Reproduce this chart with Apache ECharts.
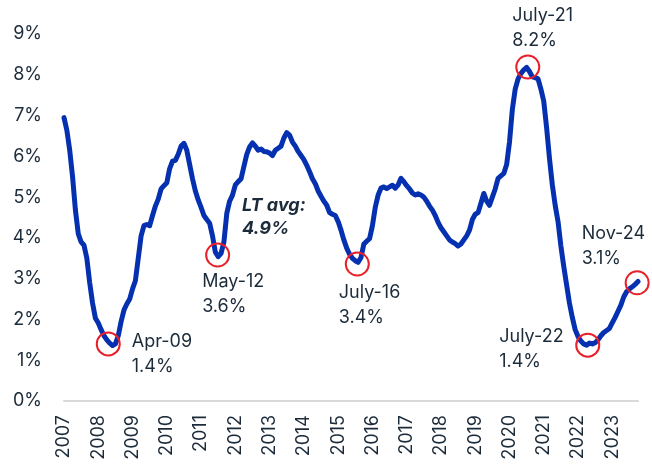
<!DOCTYPE html>
<html>
<head>
<meta charset="utf-8">
<script src="https://cdn.jsdelivr.net/npm/echarts@6/dist/echarts.min.js"></script>
<style>
  html, body { margin: 0; padding: 0; background: #fff; }
  #chart { width: 652px; height: 464px; }
</style>
</head>
<body>
<div id="chart"></div>
<script>
// tick labels on the x axis, one per 12 monthly points
var years = ['2007','2008','2009','2010','2011','2012','2013','2014','2015','2016',
             '2017','2018','2019','2020','2021','2022','2023'];

// monthly values (%)
var rates = [
  6.95, 6.64, 6.15, 5.50, 4.68, 4.10, 3.90, 3.82, 3.50, 2.90, 2.40, 2.03,
  1.91, 1.75, 1.60, 1.50, 1.42, 1.36, 1.40, 1.60, 1.95, 2.23, 2.38, 2.50,
  2.75, 2.95, 3.50, 4.05, 4.30, 4.33, 4.30, 4.55, 4.78, 4.95, 5.20, 5.28,
  5.35, 5.70, 5.88, 5.90, 6.05, 6.25, 6.32, 6.15, 5.80, 5.45, 5.15, 4.93,
  4.75, 4.55, 4.45, 4.36, 4.05, 3.65, 3.54, 3.62, 3.90, 4.60, 4.90, 5.05,
  5.30, 5.38, 5.45, 5.75, 6.05, 6.23, 6.33, 6.25, 6.15, 6.18, 6.12, 6.11,
  6.08, 6.02, 6.15, 6.20, 6.25, 6.45, 6.58, 6.52, 6.35, 6.25, 6.12, 6.02,
  5.92, 5.78, 5.62, 5.45, 5.33, 5.15, 5.02, 4.90, 4.80, 4.62, 4.58, 4.55,
  4.40, 4.19, 3.95, 3.75, 3.60, 3.50, 3.44, 3.40, 3.52, 3.85, 3.92, 3.98,
  4.30, 4.75, 5.05, 5.22, 5.25, 5.21, 5.25, 5.29, 5.22, 5.30, 5.46, 5.38,
  5.28, 5.20, 5.10, 5.05, 5.08, 5.05, 5.00, 4.90, 4.78, 4.68, 4.55, 4.38,
  4.25, 4.15, 4.05, 3.95, 3.90, 3.86, 3.80, 3.85, 3.95, 4.05, 4.19, 4.45,
  4.58, 4.62, 4.85, 5.09, 4.90, 4.80, 5.00, 5.20, 5.46, 5.52, 5.58, 5.80,
  6.35, 7.15, 7.65, 7.90, 8.03, 8.12, 8.18, 8.08, 7.95, 7.93, 7.90, 7.65,
  7.35, 6.70, 5.95, 5.30, 4.80, 4.40, 3.80, 3.30, 2.85, 2.40, 2.05, 1.75,
  1.58, 1.47, 1.40, 1.37, 1.42, 1.40, 1.43, 1.50, 1.60, 1.68, 1.73, 1.78,
  1.92, 2.05, 2.20, 2.35, 2.55, 2.68, 2.75, 2.80, 2.86, 2.93
];

// circled points: position along the months, value, and the text beside them
var markIdx   = [15.5, 53.8, 102.7, 162.4, 183.4, 200.7];
var markVal   = [1.40, 3.58, 3.36, 8.19, 1.37, 2.90];
var markName  = ['Apr-09', 'May-12', 'July-16', 'July-21', 'July-22', 'Nov-24'];
var markText  = ['1.4%', '3.6%', '3.4%', '8.2%', '1.4%', '3.1%'];

var ltLabel = 'LT avg:';
var ltValue = '4.9%';

var textColor = '#1c2b3a';
var fontFam = 'Inter, "Noto Sans", sans-serif';

// label offsets from the circle's box corner
var labelPos = [[36, -2], [-3, 27], [-6, 29], [-3, -51], [-76, -9], [-43, -49]];

var seriesLine = [];
for (var i = 0; i < rates.length; i++) {
    seriesLine.push([i, rates[i]]);
}
var seriesMarks = [];
for (var j = 0; j < markIdx.length; j++) {
    seriesMarks.push({
        value: [markIdx[j], markVal[j]],
        label: {
            show: true,
            position: labelPos[j],
            formatter: markName[j] + '\n' + markText[j]
        }
    });
}

var myChart = echarts.init(document.getElementById('chart'), null, {renderer: 'canvas'});
myChart.setOption({
    animation: false,
    grid: { left: 64, right: 14, top: 34, bottom: 63 },
    xAxis: {
        type: 'value',
        min: 0,
        max: rates.length - 1,
        interval: 12,
        axisLine: { show: true, lineStyle: { color: '#d9d9d9', width: 2 } },
        axisTick: { show: false },
        splitLine: { show: false },
        axisLabel: {
            rotate: 90,
            margin: 14,
            color: textColor,
            fontSize: 18,
            fontFamily: fontFam,
            formatter: function (v) {
                if (v % 12 !== 0) return '';
                return years[v / 12] || '';
            }
        }
    },
    yAxis: {
        type: 'value',
        min: 0,
        max: 9,
        interval: 1,
        axisLine: { show: false },
        axisTick: { show: false },
        splitLine: { show: false },
        axisLabel: {
            margin: 22,
            color: textColor,
            fontSize: 18,
            fontFamily: fontFam,
            formatter: '{value}%'
        }
    },
    series: [
        {
            type: 'line',
            data: seriesLine,
            showSymbol: false,
            lineStyle: { color: '#0530b0', width: 5, cap: 'round', join: 'round' },
            z: 2
        },
        {
            type: 'scatter',
            data: seriesMarks,
            symbol: 'circle',
            symbolSize: 23,
            itemStyle: { color: 'rgba(0,0,0,0)', borderColor: '#e8202a', borderWidth: 2, opacity: 1 },
            label: {
                color: textColor,
                fontSize: 18,
                lineHeight: 25,
                fontFamily: fontFam,
                align: 'left',
                verticalAlign: 'top'
            },
            z: 3
        }
    ],
    graphic: [
        {
            type: 'text',
            left: 242,
            top: 194,
            style: {
                text: ltLabel + '\n' + ltValue,
                fill: textColor,
                font: 'italic bold 18px ' + fontFam,
                lineHeight: 23
            }
        }
    ]
});
</script>
</body>
</html>
